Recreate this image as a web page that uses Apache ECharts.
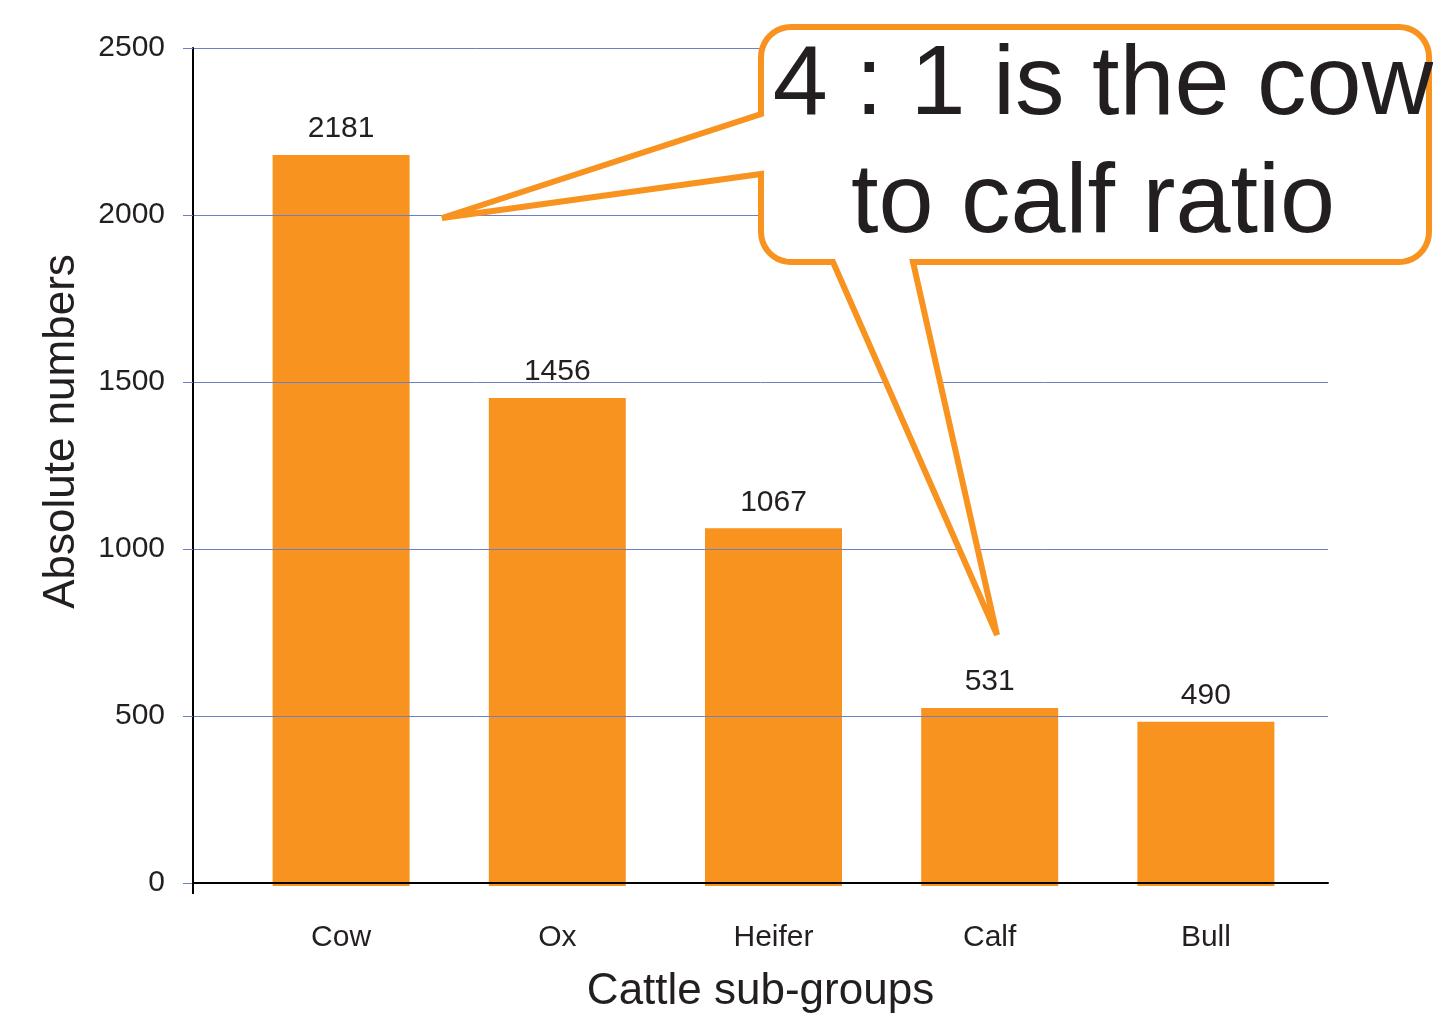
<!DOCTYPE html>
<html>
<head>
<meta charset="utf-8">
<title>Cattle sub-groups</title>
<script src="https://cdn.jsdelivr.net/npm/echarts@6/dist/echarts.min.js"></script>
<style>
  html, body { margin: 0; padding: 0; background: #ffffff; }
  #chart { width: 1433px; height: 1019px; }
</style>
</head>
<body>
<div id="chart"></div>
<script>
// Herd composition by sub-group
const categories = ['Cow', 'Ox', 'Heifer', 'Calf', 'Bull'];
const counts = [2181, 1456, 1067, 531, 490];
const yMin = 0;
const yMax = 2500;
const yStep = 500;
const calloutLines = ['4 : 1 is the cow', 'to calf ratio'];

const FONT = '"Liberation Sans", Arial, Helvetica, sans-serif';
const ORANGE = '#F7931E';
const GRID_BLUE = '#6e7fc6';
const INK = '#231f20';

// Outline of the speech bubble: rounded box with two pointers
function arcPoints(cx, cy, r, a0, a1, n) {
  const pts = [];
  for (let i = 0; i <= n; i++) {
    const a = (a0 + (a1 - a0) * i / n) * Math.PI / 180;
    pts.push([cx + r * Math.cos(a), cy + r * Math.sin(a)]);
  }
  return pts;
}
function bubbleOutline() {
  const L = 761, T = 27, R = 1429, B = 262, r = 30;
  let pts = [];
  pts = pts.concat(arcPoints(L + r, T + r, r, 180, 270, 10));
  pts = pts.concat(arcPoints(R - r, T + r, r, 270, 360, 10));
  pts = pts.concat(arcPoints(R - r, B - r, r, 0, 90, 10));
  pts.push([913, B], [997, 635], [833, B]);
  pts = pts.concat(arcPoints(L + r, B - r, r, 90, 180, 10));
  pts.push([L, 174], [442, 218], [L, 114]);
  return pts;
}

const chart = echarts.init(document.getElementById('chart'), null, { renderer: 'canvas' });

const option = {
  backgroundColor: '#ffffff',
  animation: false,
  textStyle: { fontFamily: FONT },
  grid: [
    { left: 193, right: 105, top: 48, bottom: 133 },
    { left: 233, right: 119, top: 48, bottom: 133 }
  ],
  xAxis: [
    {
      gridIndex: 0,
      type: 'category',
      data: ['', ''],
      boundaryGap: false,
      z: 5,
      axisLine: { show: true, lineStyle: { color: '#000000', width: 2 } },
      axisTick: { show: true, interval: function (i) { return i === 0; }, length: 11, lineStyle: { color: '#000000', width: 2 } },
      axisLabel: { show: false },
      splitLine: { show: false },
      name: 'Cattle sub-groups',
      nameLocation: 'middle',
      nameGap: 87,
      nameTextStyle: { fontSize: 44, color: INK, fontFamily: FONT }
    },
    {
      gridIndex: 1,
      type: 'category',
      data: categories,
      axisLine: { show: false },
      axisTick: { show: false },
      splitLine: { show: false },
      axisLabel: { fontSize: 30, margin: 37, color: INK, fontFamily: FONT }
    }
  ],
  yAxis: [
    {
      gridIndex: 0,
      type: 'value',
      min: yMin,
      max: yMax,
      interval: yStep,
      z: 5,
      axisLine: { show: true, lineStyle: { color: '#000000', width: 2 } },
      axisTick: { show: true, length: 10, lineStyle: { color: GRID_BLUE, width: 1 } },
      axisLabel: {
        fontSize: 30, margin: 28, color: INK, fontFamily: FONT,
        padding: [4, 0, 0, 0],
        formatter: function (v) { return String(v); }
      },
      splitLine: { show: true, lineStyle: { color: GRID_BLUE, width: 1 } },
      name: 'Absolute numbers',
      nameLocation: 'middle',
      nameRotate: 90,
      nameGap: 109,
      nameTextStyle: { fontSize: 44, color: INK, fontFamily: FONT, padding: [0, 0, 0, 68] }
    },
    {
      gridIndex: 1,
      type: 'value',
      min: yMin,
      max: yMax,
      interval: yStep,
      show: false
    }
  ],
  series: [
    {
      type: 'bar',
      xAxisIndex: 1,
      yAxisIndex: 1,
      data: counts,
      barWidth: 137,
      itemStyle: { color: ORANGE },
      label: {
        show: true,
        position: 'top',
        distance: 11,
        fontSize: 30,
        color: INK,
        fontFamily: FONT
      }
    }
  ],
  graphic: [
    {
      type: 'polygon',
      z: 100,
      shape: { points: bubbleOutline() },
      style: { fill: '#ffffff', stroke: ORANGE, lineWidth: 6, lineJoin: 'miter' }
    },
    {
      type: 'text',
      z: 101,
      x: 1103,
      y: 87,
      style: { text: calloutLines[0], fill: INK, fontSize: 99, fontFamily: FONT, align: 'center', verticalAlign: 'middle' }
    },
    {
      type: 'text',
      z: 101,
      x: 1093,
      y: 205,
      style: { text: calloutLines[1], fill: INK, fontSize: 99, fontFamily: FONT, align: 'center', verticalAlign: 'middle' }
    }
  ]
};

chart.setOption(option);
</script>
</body>
</html>
